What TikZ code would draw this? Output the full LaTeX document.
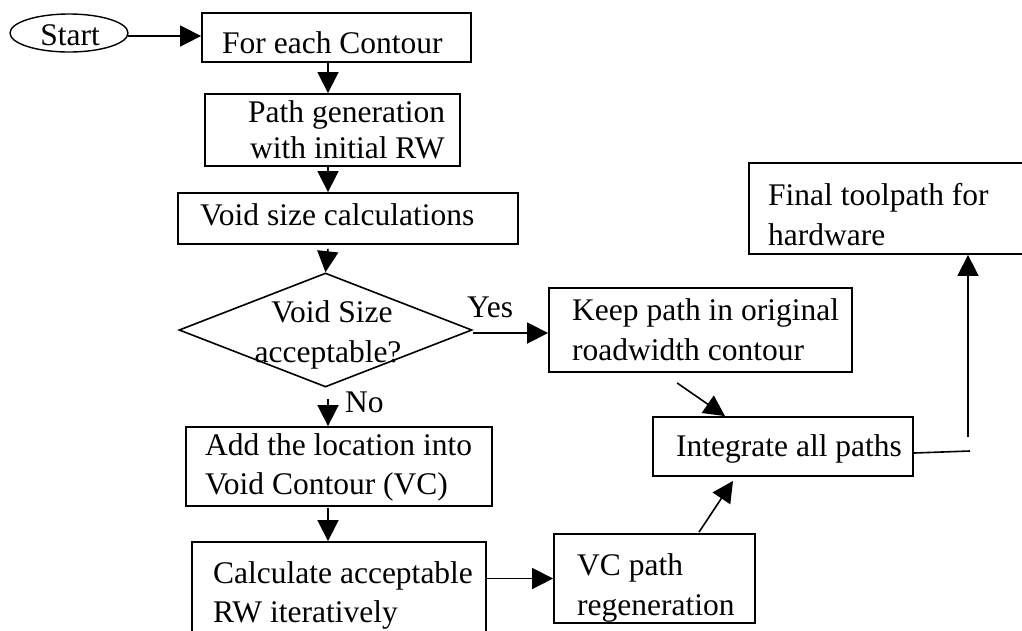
\documentclass[tikz,border=0pt]{standalone}
\usepackage{fontspec}
\setmainfont{Liberation Serif}
\usetikzlibrary{shapes.geometric,arrows.meta,calc}
\begin{document}
\begin{tikzpicture}[x=1pt,y=-1pt,
  box/.style={draw,line width=1.8pt,inner sep=0pt},
  txt/.style={anchor=base west,inner sep=0pt,font=\fontsize{31.5}{40}\selectfont},
  ctxt/.style={anchor=base,inner sep=0pt,font=\fontsize{31.5}{40}\selectfont},
  arr/.style={line width=1.6pt,-{Triangle[length=21pt,width=21pt]}},
  ln/.style={line width=1.6pt}]
\useasboundingbox[fill=white] (0,0) rectangle (1022,630);
\coordinate (axis) at (328,0);
% nodes
\node[inner sep=0pt,minimum width=118pt,minimum height=38pt] (start) at (69,33) {};
\draw[line width=1.4pt] (start.center) ellipse [x radius=59pt, y radius=19pt];
\node[ctxt] (tstart) at (70,45) {Start};
\node[box,minimum width=269pt,minimum height=49pt] (fec) at (336.5,37.5) {};
\node[txt] (tfec) at (222,53) {For each Contour};
\node[box,minimum width=255pt,minimum height=72pt] (pg) at (332.5,130) {};
\node[txt] (tpg1) at (248,122) {Path generation};
\node[txt] (tpg2) at (250,158) {with initial RW};
\node[box,minimum width=340pt,minimum height=51pt] (vs) at (348,218.5) {};
\node[txt] (tvs) at (200,225) {Void size calculations};
\node[draw,diamond,line width=1.6pt,minimum width=293pt,minimum height=114pt,inner sep=0pt] (dia) at (325.5,330) {};
\node[ctxt] (tdia1) at (332,322) {Void Size};
\node[ctxt] (tdia2) at (328,362) {acceptable?};
\node[txt] (tyes) at (467,317) {Yes};
\node[txt] (tno) at (345,412) {No};
\node[box,minimum width=303pt,minimum height=84pt] (keep) at (700.5,330) {};
\node[txt] (tkeep1) at (572,320) {Keep path in original};
\node[txt] (tkeep2) at (572,360) {roadwidth contour};
\node[box,minimum width=306pt,minimum height=79pt] (add) at (339,466.5) {};
\node[txt] (tadd1) at (205,455) {Add the location into};
\node[txt] (tadd2) at (205,494) {Void Contour (VC)};
\node[box,minimum width=294pt,minimum height=100pt] (calc) at (339,592) {};
\node[txt] (tcalc1) at (213,583) {Calculate acceptable};
\node[txt] (tcalc2) at (213,622) {RW iteratively};
\node[box,minimum width=201pt,minimum height=89pt] (vc) at (654.5,578.5) {};
\node[txt] (tvc1) at (577,575) {VC path};
\node[txt] (tvc2) at (577,615) {regeneration};
\node[box,minimum width=260pt,minimum height=59pt] (integ) at (783,446.5) {};
\node[txt] (tinteg) at (676,456) {Integrate all paths};
\node[box,minimum width=290pt,minimum height=91pt] (final) at (894,208.5) {};
\node[txt] (tfinal1) at (768,205) {Final toolpath for};
\node[txt] (tfinal2) at (768,245) {hardware};
\coordinate (bend) at (970,451);
\coordinate (upstart) at (968,437);
% connectors
\draw[arr] ($(start.east)+(0,3)$) -- ($(start.east -| fec.west)+(0,3)$);
\draw[arr] (fec.south -| axis) -- (pg.north -| axis);
\draw[arr] (pg.south -| axis) -- (vs.north -| axis);
\draw[arr] ($(vs.south -| axis)+(0,4)$) -- (dia.north);
\draw[arr] ($(dia.south -| axis)+(0,11)$) -- (add.north -| axis);
\draw[arr] ($(add.south -| axis)+(0,1)$) -- (calc.north -| axis);
\draw[arr] ($(dia.east)+(0,3)$) -- ($(dia.east -| keep.west)+(0,3)$);
\draw[arr] (vc.west -| calc.east) -- (vc.west);
\draw[arr] ($(keep.south)+(-23.5,10)$) -- ($(integ.north)+(-58,0)$);
\draw[arr] ($(vc.north)+(44.5,-1)$) -- ($(integ.south)+(-50,4)$);
\draw[ln] ($(integ.east)+(0,6.5)$) -- (bend);
\draw[arr] (upstart) -- (upstart |- final.south);
\end{tikzpicture}
\end{document}
